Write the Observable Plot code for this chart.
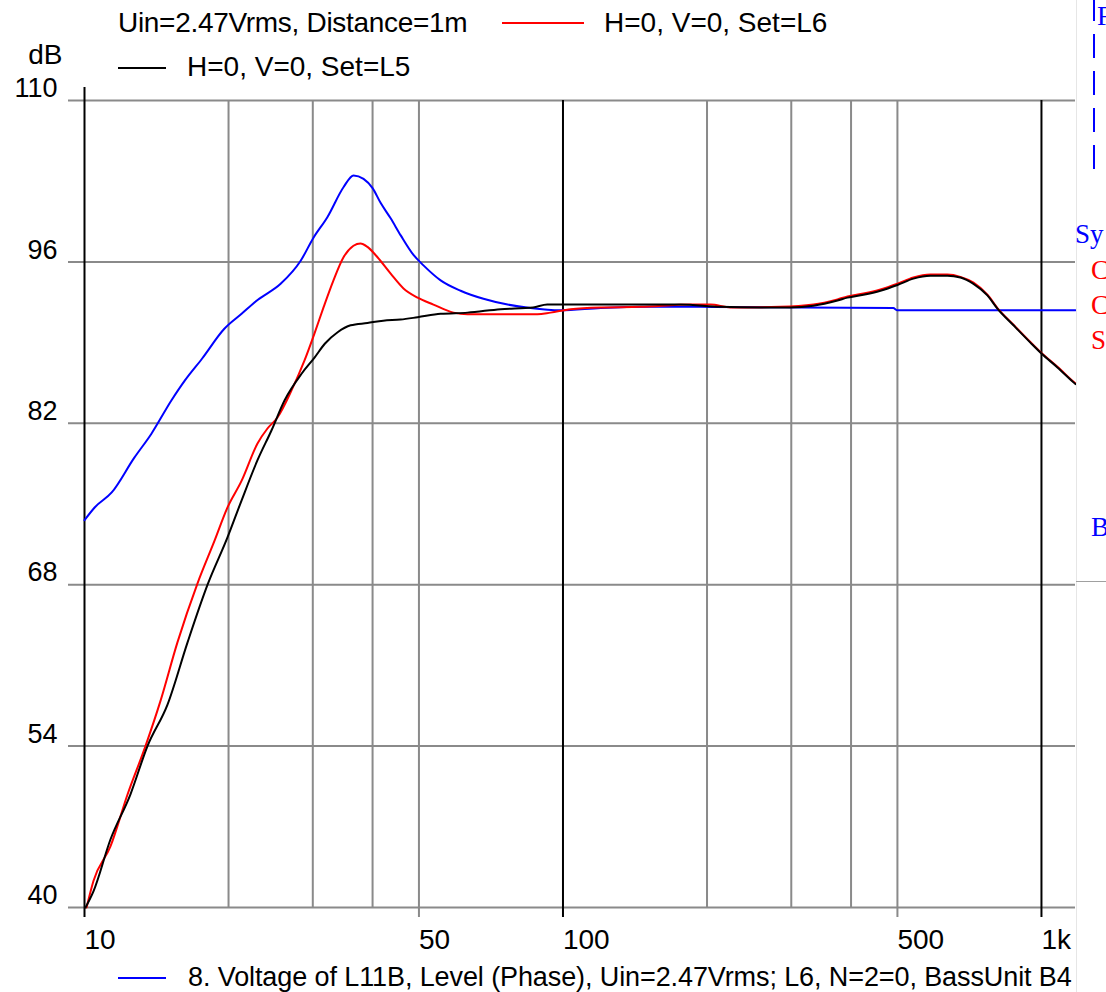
<!DOCTYPE html>
<html>
<head>
<meta charset="utf-8">
<script src="https://cdn.jsdelivr.net/npm/d3@7"></script>
<script src="https://cdn.jsdelivr.net/npm/@observablehq/plot@0.6"></script>
<style>
  html, body { margin: 0; padding: 0; background: #fff; }
  #wrap { position: relative; width: 1106px; height: 992px; overflow: hidden; background: #fff;
          font-family: "Liberation Sans", Arial, sans-serif; }
  #wrap svg { position: absolute; left: 0; top: 0; }
  .lg { position: absolute; font-size: 28px; line-height: 28px; white-space: nowrap; color: #000; }
  .sw { position: absolute; height: 2px; }
  .side { position: absolute; font-family: "Liberation Serif", "Times New Roman", serif;
          font-size: 27px; line-height: 27px; white-space: nowrap; }
</style>
</head>
<body>
<div id="wrap"></div>
<script>
// Frequency response, SPL at 1 m, 2.47 Vrms
const yTicks = [110, 96, 82, 68, 54, 40];
const xTickValues = [10, 50, 100, 500, 1000];
const xTickLabels = ["10", "50", "100", "500", "1k"];
const minorGrid = [20, 30, 40, 200, 300, 400];
const labeledMinor = [50, 500];
const decades = [100, 1000];

// Blue: 8. Voltage of L11B, Level (Phase)
const blueHz = [10, 10.5, 11.4, 12.7, 13.8, 15.2, 16.2, 17.6, 19.6, 21.3, 23.0, 25.7, 28.3, 30.1, 32.2, 34.8, 36.5, 38.3, 40.0, 41.6, 43.6, 45.8, 48.7, 51.1, 55.5, 61.1, 68.2, 76.6, 85.5, 98.8, 120, 152, 194, 314, 490, 500, 1178];
const blueDb = [73.6, 74.7, 76.0, 79.0, 81.1, 84.0, 85.7, 87.6, 90.2, 91.5, 92.7, 94.1, 96.1, 98.1, 99.9, 102.5, 103.5, 103.2, 102.4, 101.1, 99.8, 98.3, 96.6, 95.7, 94.4, 93.5, 92.8, 92.3, 92.0, 91.8, 92.0, 92.1, 92.1, 92.05, 92.0, 91.8, 91.8];

// Red: H=0, V=0, Set=L6
const redHz = [10.1, 10.44, 11.33, 12.3, 13.41, 14.41, 15.64, 17.22, 18.69, 19.9, 21.29, 22.99, 24.12, 25.31, 27.08, 28.83, 30.25, 31.59, 33.14, 34.78, 36.49, 37.74, 39.03, 40.96, 43.6, 46.42, 49.67, 53.61, 59.03, 63.15, 74.0, 88.4, 94.2, 103.7, 119.8, 145.2, 184.8, 203.4, 223.9, 284.7, 333.8, 374.7, 393.2, 424.6, 460.8, 500, 540, 586, 636, 677, 721, 771, 809, 874, 948, 1000, 1080, 1167, 1178];
const redDb = [40.0, 42.3, 45.3, 49.8, 54.0, 57.9, 63.0, 68.1, 71.8, 74.7, 77.0, 80.25, 81.55, 82.5, 84.85, 87.45, 89.8, 92.05, 94.4, 96.4, 97.4, 97.6, 97.3, 96.4, 95.0, 93.7, 92.9, 92.3, 91.6, 91.45, 91.45, 91.45, 91.6, 91.9, 92.05, 92.1, 92.3, 92.3, 92.05, 92.1, 92.3, 92.75, 93.0, 93.25, 93.6, 94.1, 94.65, 94.9, 94.9, 94.7, 94.2, 93.15, 92.0, 90.55, 89.05, 88.1, 86.9, 85.6, 85.45];

// Black: H=0, V=0, Set=L5
const blackHz = [10.05, 10.44, 11.33, 12.47, 13.54, 14.91, 16.42, 18.08, 19.9, 21.29, 22.99, 24.6, 26.2, 28.42, 30.25, 31.78, 33.81, 35.99, 39.03, 42.1, 45.75, 49.67, 55.5, 63.15, 74.03, 86.6, 92.7, 98.8, 119.8, 145.2, 176.2, 213.4, 258.7, 298, 333.8, 374.7, 393.2, 424.6, 460.8, 500, 540, 586, 636, 677, 721, 771, 809, 874, 948, 1000, 1080, 1167, 1178];
const blackDb = [40.0, 41.4, 45.9, 49.8, 54.0, 57.6, 63.0, 68.0, 72.1, 75.3, 78.8, 81.4, 84.0, 86.3, 87.7, 88.9, 89.9, 90.5, 90.7, 90.9, 91.0, 91.2, 91.5, 91.6, 91.9, 92.05, 92.3, 92.3, 92.3, 92.3, 92.3, 92.1, 92.05, 92.05, 92.2, 92.65, 92.9, 93.15, 93.5, 94.0, 94.55, 94.8, 94.8, 94.65, 94.1, 93.1, 91.95, 90.5, 89.0, 88.05, 86.85, 85.55, 85.4];

const GRID = "#8a8a8a";

const chart = Plot.plot({
  width: 1106,
  height: 992,
  marginLeft: 84,
  marginRight: 31,
  marginTop: 100,
  marginBottom: 85,
  x: {type: "log", domain: [10, 1178], axis: null},
  y: {domain: [40, 110], axis: null},
  style: {
    fontFamily: "'Liberation Sans', Arial, sans-serif",
    fontSize: "28px",
    background: "transparent",
    color: "#000",
    overflow: "visible"
  },
  marks: [
    // horizontal grid, extended left as tick marks
    Plot.ruleY(yTicks, {stroke: GRID, strokeWidth: 2, insetLeft: -16}),
    // vertical grid
    Plot.ruleX(minorGrid, {stroke: GRID, strokeWidth: 2}),
    Plot.ruleX(labeledMinor, {stroke: GRID, strokeWidth: 2, insetBottom: -10}),
    Plot.ruleX(decades, {stroke: "#000", strokeWidth: 2, insetBottom: -10}),
    Plot.ruleX([10], {stroke: "#000", strokeWidth: 2, insetTop: -13, insetBottom: -10}),
    // curves
    Plot.line(d3.zip(blueHz, blueDb), {stroke: "#0000ff", strokeWidth: 2, curve: "monotone-x"}),
    Plot.line(d3.zip(redHz, redDb), {stroke: "#ff0000", strokeWidth: 2, curve: "monotone-x"}),
    Plot.line(d3.zip(blackHz, blackDb), {stroke: "#000000", strokeWidth: 2, curve: "monotone-x"}),
    // tick labels
    Plot.text(yTicks, {y: d => d, text: d => String(d), frameAnchor: "left", dx: -27, dy: -12, textAnchor: "end", fill: "#000", fontSize: 27}),
    Plot.text(xTickValues, {x: d => d, text: (d, i) => xTickLabels[i], frameAnchor: "bottom", dy: 41, textAnchor: "start", fill: "#000"}),
    Plot.text(["dB"], {text: d => d, frameAnchor: "top-left", dx: -22, dy: -56, textAnchor: "end", fill: "#000"})
  ]
});

const wrap = document.getElementById("wrap");
wrap.appendChild(chart);

function el(cls, style, text) {
  const d = document.createElement("div");
  d.className = cls;
  Object.assign(d.style, style);
  if (text != null) d.textContent = text;
  wrap.appendChild(d);
  return d;
}

// legend above the plot
el("lg", {left: "118px", top: "9px", letterSpacing: "-0.3px"}, "Uin=2.47Vrms, Distance=1m");
el("sw", {left: "502px", top: "22px", width: "82px", background: "#ff0000"});
el("lg", {left: "604px", top: "9px"}, "H=0, V=0, Set=L6");
el("sw", {left: "118px", top: "67px", width: "48px", background: "#000"});
el("lg", {left: "187px", top: "53px"}, "H=0, V=0, Set=L5");

// legend below the plot
el("sw", {left: "118px", top: "977px", width: "48px", background: "#0000ff"});
el("lg", {left: "188px", top: "963px", fontSize: "27px", letterSpacing: "-0.1px"}, "8. Voltage of L11B, Level (Phase), Uin=2.47Vrms; L6, N=2=0, BassUnit B4");

// neighbouring page panel on the right edge
el("sw", {left: "1076px", top: "0px", width: "1px", height: "992px", background: "#e6e6e6"});
el("sw", {left: "1076px", top: "581px", width: "30px", height: "1px", background: "#a0a0a0"});
const dash = document.createElementNS("http://www.w3.org/2000/svg", "svg");
dash.setAttribute("width", "6");
dash.setAttribute("height", "180");
dash.style.position = "absolute";
dash.style.left = "1091px";
dash.style.top = "0px";
dash.innerHTML = '<line x1="3" x2="3" y1="-3" y2="176" stroke="#0000ff" stroke-width="2" stroke-dasharray="24 13"/>';
wrap.appendChild(dash);
el("side", {left: "1097px", top: "3px", color: "#0000ff"}, "F");
el("side", {left: "1075px", top: "221px", color: "#0000ff"}, "Sy");
el("side", {left: "1091px", top: "257px", color: "#ff0000"}, "C");
el("side", {left: "1091px", top: "292px", color: "#ff0000"}, "C");
el("side", {left: "1091px", top: "327px", color: "#ff0000"}, "S");
el("side", {left: "1091px", top: "514px", color: "#0000ff"}, "B");
</script>
</body>
</html>
